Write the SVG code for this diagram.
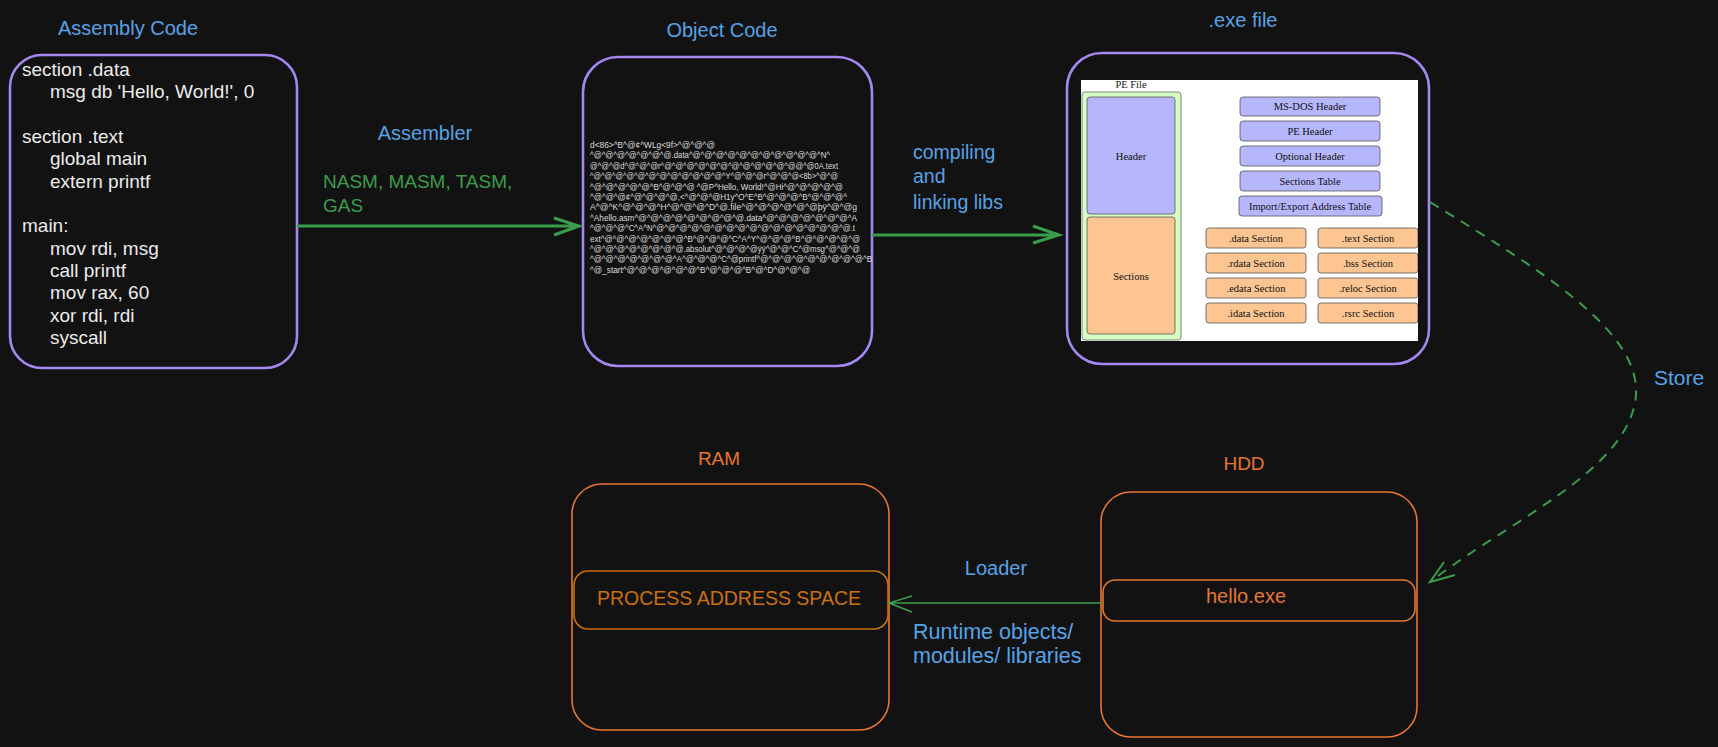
<svg xmlns="http://www.w3.org/2000/svg" width="1718" height="747" viewBox="0 0 1718 747">
<defs>
<style>
.hand{font-family:"Liberation Sans","Noto Sans",sans-serif}
.blue{fill:#56a2e6}
.green{fill:#3a9d4c}
.orange{fill:#e8762f}
.code{font-family:"Liberation Sans",sans-serif;font-size:19px;fill:#ececec}
.obj{font-family:"Liberation Sans",sans-serif;font-size:9.5px;fill:#dcdcdc}
.pbox{fill:#121212;stroke:#a487f0;stroke-width:2.6}
.obox{fill:none;stroke:#e8762f;stroke-width:1.6}
.pe{font-family:"Liberation Serif",serif;font-size:10.5px;fill:#111}
.hb{fill:#b6b6fc;stroke:#555;stroke-width:0.8}
.sb{fill:#fcc592;stroke:#555;stroke-width:0.8}
.conn{fill:none;stroke:#3a9d4c}
</style>
<clipPath id="img"><rect x="1081" y="80" width="337" height="261"/></clipPath>
</defs>
<rect width="1718" height="747" fill="#121212"/>

<g id="assembly">
<text class="hand blue" x="128" y="35" font-size="20" text-anchor="middle">Assembly Code</text>
<rect class="pbox" x="10" y="55" width="287" height="313" rx="32"/>
<text class="code" x="22" y="76">section .data</text>
<text class="code" x="50" y="98">msg db 'Hello, World!', 0</text>
<text class="code" x="22" y="143">section .text</text>
<text class="code" x="50" y="165">global main</text>
<text class="code" x="50" y="188">extern printf</text>
<text class="code" x="22" y="232">main:</text>
<text class="code" x="50" y="255">mov rdi, msg</text>
<text class="code" x="50" y="277">call printf</text>
<text class="code" x="50" y="299">mov rax, 60</text>
<text class="code" x="50" y="322">xor rdi, rdi</text>
<text class="code" x="50" y="344">syscall</text>
</g>

<g id="object">
<text class="hand blue" x="722" y="37" font-size="20" text-anchor="middle">Object Code</text>
<rect class="pbox" x="583" y="57" width="289" height="309" rx="35"/>
<text class="obj" x="590" y="148" textLength="125" lengthAdjust="spacingAndGlyphs">d&lt;86&gt;^B^@¢^WLg&lt;9f&gt;^@^@^@</text>
<text class="obj" x="590" y="158.4" textLength="240" lengthAdjust="spacingAndGlyphs">^@^@^@^@^@^@^@.data^@^@^@^@^@^@^@^@^@^@^@^N^</text>
<text class="obj" x="590" y="168.8" textLength="248" lengthAdjust="spacingAndGlyphs">@^@^@d^@^@^@r^@^@^@^@^@^@^@^@^@^@^@^@@^@0A.text</text>
<text class="obj" x="590" y="179.2" textLength="248" lengthAdjust="spacingAndGlyphs">^@^@^@^@^@^@^@^@^@^@^@^@^Y^@^@^@r^@^@^@&lt;8b&gt;^@^@</text>
<text class="obj" x="590" y="189.6" textLength="253" lengthAdjust="spacingAndGlyphs">^@^@^@^@^@^B^@^@^@ ^@P^Hello, World!^@Hi^@^@^@^@^@</text>
<text class="obj" x="590" y="200" textLength="257" lengthAdjust="spacingAndGlyphs">^@^@^@¢^@^@^@^@,&lt;^@^@^@H1y^O^E^B^@^@^@^B^@^@^@^</text>
<text class="obj" x="590" y="210.4" textLength="267" lengthAdjust="spacingAndGlyphs">A^@^K^@^@^@^H^@^@^@^D^@.file^@^@^@^@^@^@þÿ^@^@g</text>
<text class="obj" x="590" y="220.8" textLength="267" lengthAdjust="spacingAndGlyphs">^Ahello.asm^@^@^@^@^@^@^@^@^@.data^@^@^@^@^@^@^@^A</text>
<text class="obj" x="590" y="231.2" textLength="265" lengthAdjust="spacingAndGlyphs">^@^@^@^C^A^N^@^@^@^@^@^@^@^@^@^@^@^@^@^@^@^@^@.t</text>
<text class="obj" x="590" y="241.6" textLength="270" lengthAdjust="spacingAndGlyphs">ext^@^@^@^@^@^@^@^B^@^@^@^C^A^Y^@^@^@^B^@^@^@^@^@</text>
<text class="obj" x="590" y="252" textLength="270" lengthAdjust="spacingAndGlyphs">^@^@^@^@^@^@^@^@.absolut^@^@^@^@ÿÿ^@^@^C^@msg^@^@^@</text>
<text class="obj" x="590" y="262.4" textLength="282" lengthAdjust="spacingAndGlyphs">^@^@^@^@^@^@^@^A^@^@^@^C^@printf^@^@^@^@^@^@^@^@^@^B</text>
<text class="obj" x="590" y="272.8" textLength="220" lengthAdjust="spacingAndGlyphs">^@_start^@^@^@^@^@^@^B^@^@^@^B^@^D^@^@^@</text>
</g>

<g id="exe">
<text class="hand blue" x="1243" y="27" font-size="20" text-anchor="middle">.exe file</text>
<rect class="pbox" x="1067" y="53" width="362" height="311" rx="35"/>
<g clip-path="url(#img)">
<rect x="1081" y="80" width="337" height="261" fill="#ffffff"/>
<text class="pe" x="1131" y="87.5" text-anchor="middle">PE File</text>
<rect x="1082" y="92" width="99" height="248" rx="3" fill="#d6fdc2" stroke="#666" stroke-width="0.8"/>
<rect class="hb" x="1087" y="97" width="88" height="117" rx="3"/>
<rect class="sb" x="1087" y="217" width="88" height="117" rx="3"/>
<text class="pe" x="1131" y="160" text-anchor="middle">Header</text>
<text class="pe" x="1131" y="280" text-anchor="middle">Sections</text>
<rect class="hb" x="1240" y="97" width="140" height="19" rx="3"/>
<rect class="hb" x="1240" y="121" width="140" height="20" rx="3"/>
<rect class="hb" x="1240" y="146" width="140" height="20" rx="3"/>
<rect class="hb" x="1240" y="171" width="140" height="20" rx="3"/>
<rect class="hb" x="1239" y="196" width="143" height="20" rx="3"/>
<text class="pe" x="1310" y="110" text-anchor="middle">MS-DOS Header</text>
<text class="pe" x="1310" y="135" text-anchor="middle">PE Header</text>
<text class="pe" x="1310" y="160" text-anchor="middle">Optional Header</text>
<text class="pe" x="1310" y="185" text-anchor="middle">Sections Table</text>
<text class="pe" x="1310" y="210" text-anchor="middle">Import/Export Address Table</text>
<rect class="sb" x="1206" y="228" width="100" height="20" rx="3"/>
<rect class="sb" x="1206" y="253" width="100" height="20" rx="3"/>
<rect class="sb" x="1206" y="278" width="100" height="20" rx="3"/>
<rect class="sb" x="1206" y="303" width="100" height="20" rx="3"/>
<rect class="sb" x="1318" y="228" width="100" height="20" rx="3"/>
<rect class="sb" x="1318" y="253" width="100" height="20" rx="3"/>
<rect class="sb" x="1318" y="278" width="100" height="20" rx="3"/>
<rect class="sb" x="1318" y="303" width="100" height="20" rx="3"/>
<text class="pe" x="1256" y="242" text-anchor="middle">.data Section</text>
<text class="pe" x="1256" y="267" text-anchor="middle">.rdata Section</text>
<text class="pe" x="1256" y="292" text-anchor="middle">.edata Section</text>
<text class="pe" x="1256" y="317" text-anchor="middle">.idata Section</text>
<text class="pe" x="1368" y="242" text-anchor="middle">.text Section</text>
<text class="pe" x="1368" y="267" text-anchor="middle">.bss Section</text>
<text class="pe" x="1368" y="292" text-anchor="middle">.reloc Section</text>
<text class="pe" x="1368" y="317" text-anchor="middle">.rsrc Section</text>
</g>
</g>

<g id="ram">
<text class="hand orange" x="719" y="465" font-size="19" text-anchor="middle">RAM</text>
<rect class="obox" x="572" y="484" width="317" height="246" rx="30"/>
<rect x="574" y="571" width="314" height="58" rx="14" fill="none" stroke="#c9700f" stroke-width="1.6"/>
<text class="hand" x="729" y="605" font-size="19.5" fill="#c9700f" text-anchor="middle">PROCESS ADDRESS SPACE</text>
</g>

<g id="hdd">
<text class="hand orange" x="1244" y="470" font-size="19" text-anchor="middle">HDD</text>
<rect class="obox" x="1101" y="492" width="316" height="245" rx="30"/>
<rect class="obox" x="1103" y="580" width="312" height="41" rx="12"/>
<text class="hand orange" x="1246" y="603" font-size="20" text-anchor="middle">hello.exe</text>
</g>

<g id="connectors">
<path class="conn" stroke-width="3" d="M297 226 L579 226 M554 218 L579 226 L554 235"/>
<text class="hand blue" x="425" y="140" font-size="20" text-anchor="middle">Assembler</text>
<text class="hand green" x="323" y="188" font-size="19">NASM, MASM, TASM,</text>
<text class="hand green" x="323" y="212" font-size="19">GAS</text>

<path class="conn" stroke-width="3" d="M872 235 L1059 235 M1033 226 L1059 235 L1033 243"/>
<text class="hand blue" x="913" y="159" font-size="19.5">compiling</text>
<text class="hand blue" x="913" y="183" font-size="19.5">and</text>
<text class="hand blue" x="913" y="209" font-size="19.5">linking libs</text>

<path class="conn" stroke-width="2" stroke-dasharray="10 8" d="M1430 202 C1540 270 1640 330 1636 395 C1630 470 1510 520 1430 582"/>
<path class="conn" stroke-width="2" d="M1444 562 L1430 582 L1455 575"/>
<text class="hand blue" x="1654" y="385" font-size="21">Store</text>

<path class="conn" stroke-width="1.6" d="M1101 603 L889 603 M912 596 L889 603 L912 612"/>
<text class="hand blue" x="996" y="575" font-size="20" text-anchor="middle">Loader</text>
<text class="hand blue" x="913" y="639" font-size="21.5">Runtime objects/</text>
<text class="hand blue" x="913" y="663" font-size="21.5">modules/ libraries</text>
</g>
</svg>
